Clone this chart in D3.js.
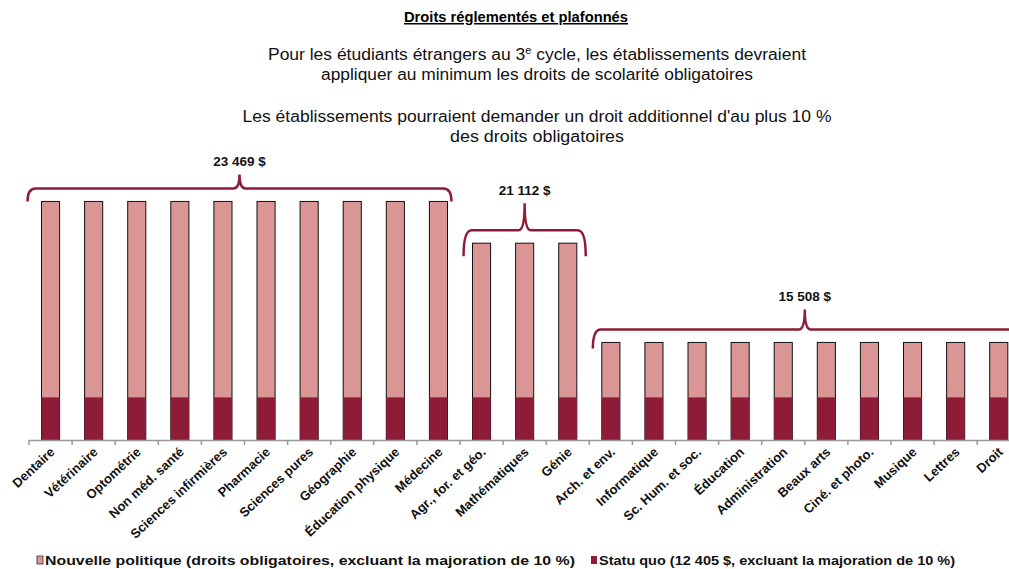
<!DOCTYPE html>
<html>
<head>
<meta charset="utf-8">
<script src="https://cdn.jsdelivr.net/npm/d3@7"></script>
<style>
  body { margin: 0; background: #fff; }
  svg { font-family: "Liberation Sans", Arial, sans-serif; }
</style>
</head>
<body>
<div id="chart"></div>
<script>
// categories and values
var categories = ["Dentaire", "Vétérinaire", "Optométrie", "Non méd. santé", "Sciences infirmières",
  "Pharmacie", "Sciences pures", "Géographie", "Éducation physique", "Médecine",
  "Agr., for. et géo.", "Mathématiques", "Génie",
  "Arch. et env.", "Informatique", "Sc. Hum. et soc.", "Éducation", "Administration",
  "Beaux arts", "Ciné. et photo.", "Musique", "Lettres", "Droit"]
var nouvellePolitique = [23469, 23469, 23469, 23469, 23469, 23469, 23469, 23469, 23469, 23469,
  21112, 21112, 21112,
  15508, 15508, 15508, 15508, 15508, 15508, 15508, 15508, 15508, 15508]
var statuQuo = [12405, 12405, 12405, 12405, 12405, 12405, 12405, 12405, 12405, 12405,
  12405, 12405, 12405,
  12405, 12405, 12405, 12405, 12405, 12405, 12405, 12405, 12405, 12405]
var groupLabels = ["23 469 $", "21 112 $", "15 508 $"]
var groupFirst = [0, 10, 13]
var groupLast = [9, 12, 22]
var yDomain = [10000, 25000]
var legendLabels = ["Nouvelle politique (droits obligatoires, excluant la majoration de 10 %)",
  "Statu quo (12 405 $, excluant la majoration de 10 %)"]

// styles
var pink = "#d99694"
var wine = "#8e1c38"
var braceDepth = [14, 27, 20]
var braceDrop = [13, 26, 19]
var braceShift = [-5, 0, 0]

var width = 1009, height = 569

var svg = d3.select("#chart").append("svg").attr("width", width).attr("height", height)

// title + subtitles
svg.append("text").attr("x", 516).attr("y", 22).attr("text-anchor", "middle")
  .attr("font-size", "15px").attr("font-weight", "bold")
  .attr("text-decoration", "underline")
  .attr("textLength", 224).attr("lengthAdjust", "spacingAndGlyphs")
  .text("Droits réglementés et plafonnés")

var sub = [
  {y: 60, w: 538, t: "Pour les étudiants étrangers au 3", sup: "e", rest: " cycle, les établissements devraient"},
  {y: 80, w: 432, t: "appliquer au minimum les droits de scolarité obligatoires"},
  {y: 122, w: 589, t: "Les établissements pourraient demander un droit additionnel d'au plus 10 %"},
  {y: 142, w: 174, t: "des droits obligatoires"}
]
sub.forEach(function(s) {
  var t = svg.append("text").attr("x", 537).attr("y", s.y).attr("text-anchor", "middle")
    .attr("font-size", "16px").attr("fill", "#111")
    .attr("textLength", s.w).attr("lengthAdjust", "spacingAndGlyphs")
  t.append("tspan").text(s.t)
  if (s.sup) {
    t.append("tspan").attr("font-size", "10px").attr("dy", -6).text(s.sup)
    t.append("tspan").attr("dy", 6).text(s.rest)
  }
})

// scales
var x = d3.scaleBand().domain(categories).range([29, 29 + 43.1 * categories.length]).paddingInner(0.58).paddingOuter(0.29)
var y = d3.scaleLinear().domain(yDomain).range([440, 440 - (yDomain[1] - yDomain[0]) / 56.46])

var g = svg.append("g")

// pink (top) bars
g.selectAll(".bar-top").data(categories).enter().append("rect")
  .attr("class", "bar-top")
  .attr("x", function(d) { return x(d) })
  .attr("width", x.bandwidth())
  .attr("y", function(d, i) { return y(nouvellePolitique[i]) })
  .attr("height", function(d, i) { return y(yDomain[0]) - y(nouvellePolitique[i]) })
  .attr("fill", pink).attr("stroke", "#111").attr("stroke-width", 1)

// dark (bottom) bars
g.selectAll(".bar-bot").data(categories).enter().append("rect")
  .attr("class", "bar-bot")
  .attr("x", function(d) { return x(d) })
  .attr("width", x.bandwidth())
  .attr("y", function(d, i) { return y(statuQuo[i]) })
  .attr("height", function(d, i) { return y(yDomain[0]) - y(statuQuo[i]) })
  .attr("fill", wine)

// x axis
var step = x.step()
svg.append("line").attr("x1", 29).attr("x2", width).attr("y1", 440.5).attr("y2", 440.5)
  .attr("stroke", "#999").attr("stroke-width", 1.5)
svg.selectAll(".tick").data(d3.range(categories.length + 1)).enter().append("line")
  .attr("x1", function(i) { return 29 + i * step }).attr("x2", function(i) { return 29 + i * step })
  .attr("y1", 440).attr("y2", 445).attr("stroke", "#999").attr("stroke-width", 1.5)

svg.selectAll(".cat").data(categories).enter().append("text")
  .attr("class", "cat")
  .attr("text-anchor", "end")
  .attr("font-size", "13px").attr("font-weight", "bold").attr("fill", "#111")
  .attr("transform", function(d) {
    return "translate(" + (x(d) + x.bandwidth() / 2 + 5) + ",453) rotate(-43)"
  })
  .text(function(d) { return d })

// braces
groupLabels.forEach(function(lab, k) {
  var c1 = x(categories[groupFirst[k]]) + x.bandwidth() / 2
  var c2 = x(categories[groupLast[k]]) + x.bandwidth() / 2
  var cx = (c1 + c2) / 2 + braceShift[k]
  var half = (c2 - c1) / 2 + 18
  var top = y(nouvellePolitique[groupFirst[k]])
  var hy = top - 13
  var x0 = cx - half, x1 = cx + half
  var dd = braceDrop[k], pk = braceDepth[k]
  var p = d3.path()
  p.moveTo(x0, hy + dd)
  p.quadraticCurveTo(x0, hy, x0 + 8, hy)
  p.lineTo(cx - 6, hy)
  p.quadraticCurveTo(cx, hy, cx, hy - pk)
  p.quadraticCurveTo(cx, hy, cx + 6, hy)
  p.lineTo(x1 - 8, hy)
  p.quadraticCurveTo(x1, hy, x1, hy + dd)
  svg.append("path").attr("d", p.toString()).attr("fill", "none")
    .attr("stroke", wine).attr("stroke-width", 2.5)
  svg.append("text").attr("x", cx).attr("y", hy - pk - 8).attr("text-anchor", "middle")
    .attr("font-size", "13.5px").attr("font-weight", "bold").attr("fill", "#111")
    .text(lab)
})

// legend
var legX = [37, 591]
var legFill = [pink, wine]
legendLabels.forEach(function(l, i) {
  svg.append("rect").attr("x", legX[i]).attr("y", 556).attr("width", 6).attr("height", 8)
    .attr("fill", legFill[i]).attr("stroke", i === 0 ? "#333" : "none").attr("stroke-width", 0.8)
  svg.append("text").attr("x", legX[i] + 8).attr("y", 565)
    .attr("font-size", "13px").attr("font-weight", "bold").attr("fill", "#111")
    .attr("textLength", i === 0 ? 530 : 356).attr("lengthAdjust", "spacingAndGlyphs")
    .text(l)
})
</script>
</body>
</html>
